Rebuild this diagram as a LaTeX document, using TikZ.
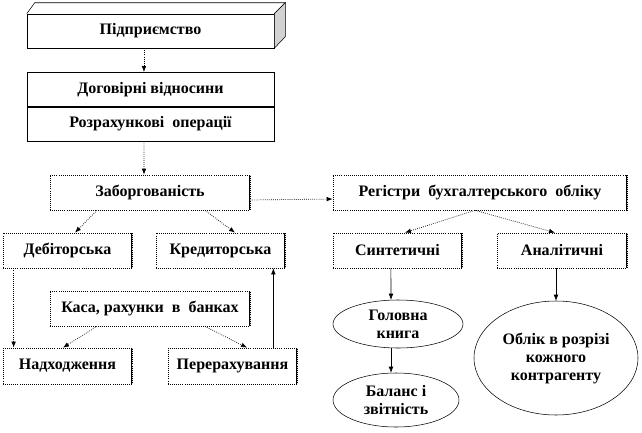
\documentclass[tikz,border=0pt]{standalone}
\usepackage{fontspec}
\setmainfont{Liberation Serif}
\usetikzlibrary{arrows.meta,shapes.geometric}
\begin{document}
\begin{tikzpicture}[x=0.75pt,y=-0.75pt,
        font=\fontsize{12pt}{13.5pt}\selectfont\bfseries,
        >={Latex[length=4.5pt,width=3.5pt]},
        box/.style={draw,densely dotted,line width=0.55pt,minimum height=26.25pt,inner sep=0pt,
            path picture={\draw[solid,line width=0.8pt] (path picture bounding box.north east) -- (path picture bounding box.south east);}},
        plainbox/.style={draw,minimum height=25.75pt,inner sep=0pt},
        oval/.style={draw,ellipse,inner sep=0pt,align=center},
        link/.style={->,densely dotted,line width=0.55pt},
        solidlink/.style={->}]
        \useasboundingbox (0,0) rectangle (642,432);
        \node[plainbox,minimum width=185.25pt,minimum height=25.5pt] (firm) at (150.5,31) {Підприємство};
        \draw (firm.north west) -- ++(8,-11) -- ([shift={(11,-11)}]firm.north east) -- (firm.north east);
        \filldraw[fill=gray!35] (firm.north east) -- ++(11,-11) -- ++(0,34) -- (firm.south east) -- cycle;
        \node[plainbox,minimum width=185.25pt] (contr) at (150.5,89.5) {Договірні відносини};
        \node[plainbox,minimum width=185.25pt] (settle) at (150.5,124) {Розрахункові \ операції};
        \node[box,minimum width=150pt] (debt) at (150,192.5) {Заборгованість};
        \node[box,minimum width=220.5pt] (regs) at (480,192.5) {Регістри \ бухгалтерського \ обліку};
        \node[box,minimum width=96.75pt] (deb) at (67.5,250.5) {Дебіторська};
        \node[box,minimum width=96.75pt] (cred) at (220.5,250.5) {Кредиторська};
        \node[box,minimum width=150pt] (cash) at (150,308.5) {Каса, рахунки \ в \ банках};
        \node[box,minimum width=96.75pt,minimum height=27pt] (inc) at (67.5,366) {Надходження};
        \node[box,minimum width=96.75pt,minimum height=27pt] (pay) at (232.5,366) {Перерахування};
        \node[box,minimum width=96.75pt] (syn) at (397.5,250.5) {Синтетичні};
        \node[box,minimum width=97.5pt] (ana) at (562,250.5) {Аналітичні};
        \node[oval,minimum width=97.5pt,minimum height=36pt] (ledger) at (398,324) {Головна\\книга};
        \node[oval,minimum width=94.5pt,minimum height=40.5pt] (bal) at (396,400) {Баланс і\\звітність};
        \node[oval,minimum width=123pt,minimum height=85.5pt] (acct) at (556,358) {Облік в розрізі\\кожного\\контрагенту};
        \draw[link] ([xshift=-4.9pt]firm.south) -- ([xshift=-4.9pt]contr.north);
        \draw[link] ([xshift=-4.9pt]settle.south) -- ([xshift=-4.5pt]debt.north);
        \draw[link] ([yshift=-5.6pt]debt.east) -- ([yshift=-4.9pt]regs.west);
        \draw[link] ([xshift=-39.75pt]debt.south) -- ([xshift=5.6pt]deb.north);
        \draw[link] ([xshift=41.25pt]debt.south) -- ([xshift=10.9pt]cred.north);
        \draw[link] ([xshift=8.25pt]deb.south west) -- ([xshift=8.25pt]inc.north west);
        \draw[link] ([xshift=-39.75pt]cash.south) -- ([xshift=-3.4pt]inc.north);
        \draw[link] ([xshift=41.25pt]cash.south) -- ([xshift=10.9pt]pay.north);
        \draw[solidlink] ([xshift=-18pt]pay.north east) -- ([xshift=-9pt]cred.south east);
        \draw[link] ([xshift=-3.75pt]regs.south) -- ([xshift=5.6pt]syn.north);
        \draw[link] ([xshift=-3.75pt]regs.south) -- ([xshift=-5.25pt]ana.north);
        \draw[solidlink] ([xshift=-4.9pt]syn.south) -- ([xshift=-5.25pt]ledger.north);
        \draw[solidlink] ([xshift=-5.25pt]ledger.south) -- ([xshift=-3.75pt]bal.north);
        \draw[solidlink] ([xshift=-4.5pt]ana.south) -- (acct.north);
\end{tikzpicture}
\end{document}
